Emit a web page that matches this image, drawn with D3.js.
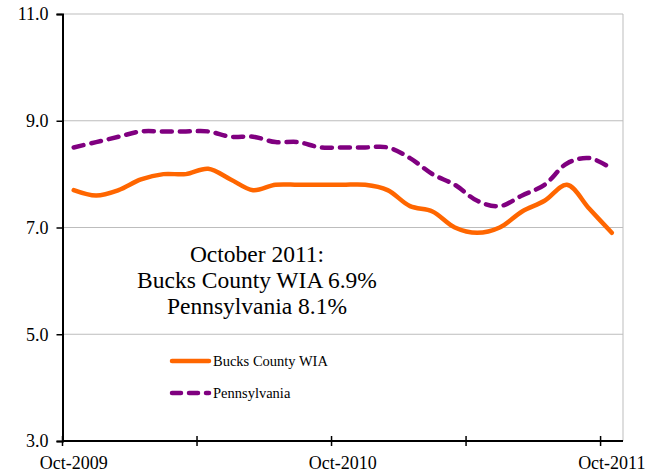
<!DOCTYPE html>
<html>
<head>
<meta charset="utf-8">
<script src="https://cdn.jsdelivr.net/npm/d3@7"></script>
<style>
  body { margin: 0; background: #fff; }
  text { font-family: "Liberation Serif", "Times New Roman", serif; fill: #000; }
</style>
</head>
<body>
<div id="chart"></div>
<script>
// months Oct-2009 .. Oct-2011
var months = ["Oct-2009","Nov-2009","Dec-2009","Jan-2010","Feb-2010","Mar-2010","Apr-2010","May-2010","Jun-2010","Jul-2010","Aug-2010","Sep-2010",
  "Oct-2010","Nov-2010","Dec-2010","Jan-2011","Feb-2011","Mar-2011","Apr-2011","May-2011","Jun-2011","Jul-2011","Aug-2011","Sep-2011","Oct-2011"];
var bucks = [7.7,7.6,7.7,7.9,8.0,8.0,8.1,7.9,7.7,7.8,7.8,7.8,7.8,7.8,7.7,7.4,7.3,7.0,6.9,7.0,7.3,7.5,7.8,7.35,6.9];
var penn = [8.5,8.6,8.7,8.8,8.8,8.8,8.8,8.7,8.7,8.6,8.6,8.5,8.5,8.5,8.5,8.3,8.0,7.8,7.5,7.4,7.6,7.8,8.2,8.3,8.1];
var yTicks = [3,5,7,9,11];
var xLabels = ["Oct-2009","Oct-2010","Oct-2011"];
var seriesNames = ["Bucks County WIA","Pennsylvania"];
var noteLines = ["October 2011:","Bucks County WIA 6.9%","Pennsylvania 8.1%"];

var width = 655, height = 474;
var margin = {top: 14, right: 32, bottom: 33, left: 62.5};
var w = width - margin.left - margin.right, h = height - margin.top - margin.bottom;

var svg = d3.select("#chart").append("svg").attr("width", width).attr("height", height);
var g = svg.append("g").attr("transform", "translate(" + margin.left + "," + margin.top + ")");

var x = d3.scaleBand().domain(months).range([0, w]).padding(0);
var y = d3.scaleLinear().domain([3, 11]).range([h, 0]);
var cx = function(m) { return x(m) + x.bandwidth() / 2; };

// grid
g.selectAll(".grid").data(yTicks.slice(1)).enter().append("line")
  .attr("x1", 0).attr("x2", w)
  .attr("y1", function(d) { return y(d); }).attr("y2", function(d) { return y(d); })
  .attr("stroke", "#bdbdbd").attr("stroke-width", 1);
g.append("line").attr("x1", w).attr("x2", w).attr("y1", 0).attr("y2", h)
  .attr("stroke", "#bdbdbd").attr("stroke-width", 1);

// y axis
var yAxis = g.append("g").call(d3.axisLeft(y).tickValues(yTicks).tickSize(6).tickFormat(d3.format(".1f")));
yAxis.select(".domain").attr("stroke", "#000").attr("stroke-width", 2);
yAxis.selectAll(".tick line").attr("stroke", "#000").attr("stroke-width", 1.5);
yAxis.selectAll("text").attr("font-size", 18).attr("x", -14);

// x axis
var xa = g.append("g").attr("transform", "translate(0," + h + ")");
xa.append("line").attr("x1", 0).attr("x2", w).attr("stroke", "#000").attr("stroke-width", 2);
var tickMonths = months.filter(function(d, i) { return i % 6 == 0; });
xa.selectAll(".xt").data(tickMonths).enter().append("line")
  .attr("x1", function(d) { return x(d); }).attr("x2", function(d) { return x(d); })
  .attr("y1", -5).attr("y2", 5).attr("stroke", "#000").attr("stroke-width", 1.5);
xa.selectAll(".xl").data(xLabels).enter().append("text")
  .attr("x", function(d) { return cx(d); }).attr("y", 28)
  .attr("text-anchor", "middle").attr("font-size", 18).text(function(d) { return d; });

// lines
var line = d3.line()
  .x(function(d, i) { return cx(months[i]); })
  .y(function(d) { return y(d); })
  .curve(d3.curveCatmullRom.alpha(0.5));

g.append("path").attr("d", line(penn)).attr("fill", "none")
  .attr("stroke", "#800080").attr("stroke-width", 4.5)
  .attr("stroke-dasharray", "10,8").attr("stroke-linecap", "round");
g.append("path").attr("d", line(bucks)).attr("fill", "none")
  .attr("stroke", "#ff6600").attr("stroke-width", 4.5).attr("stroke-linecap", "round");

// legend
var legend = svg.append("g").attr("transform", "translate(172,361)");
legend.append("line").attr("x1", 0).attr("x2", 37).attr("y1", 0).attr("y2", 0)
  .attr("stroke", "#ff6600").attr("stroke-width", 4.5).attr("stroke-linecap", "round");
legend.append("line").attr("x1", 0).attr("x2", 37).attr("y1", 32).attr("y2", 32)
  .attr("stroke", "#800080").attr("stroke-width", 4.5).attr("stroke-dasharray", "9,8").attr("stroke-linecap", "round");
legend.selectAll("text").data(seriesNames).enter().append("text")
  .attr("x", 41).attr("y", function(d, i) { return i * 32 + 5; })
  .attr("font-size", 14.5).text(function(d) { return d; });

// annotation
svg.selectAll(".note").data(noteLines).enter().append("text")
  .attr("x", 257).attr("y", function(d, i) { return 262 + i * 26; })
  .attr("text-anchor", "middle").attr("font-size", 23.5).text(function(d) { return d; });
</script>
</body>
</html>
